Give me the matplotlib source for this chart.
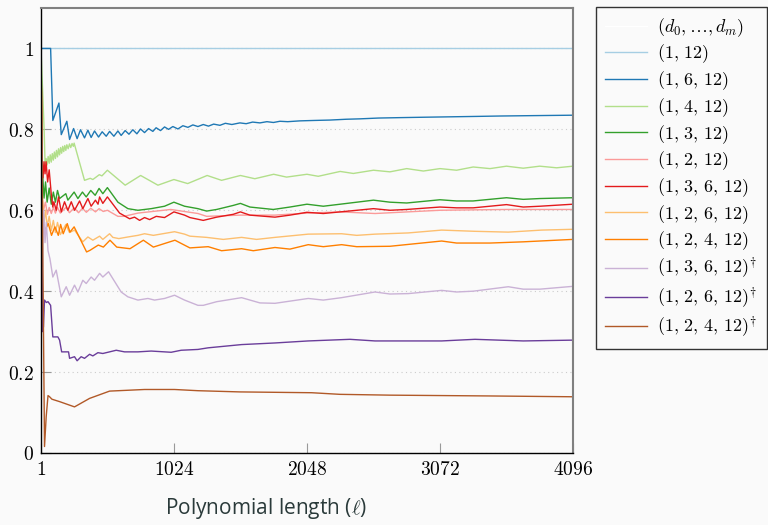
import matplotlib
matplotlib.use("Agg")
import matplotlib.pyplot as plt

plt.rcParams['mathtext.fontset'] = 'cm'
plt.rcParams['font.family'] = ['DejaVu Sans']

# (polynomial length, value)
s_1_12 = [(1, 1.0), (4096, 1.0)]
s_1_6_12 = [(1, 1.0), (75, 1.0), (92, 0.822), (139, 0.865), (157, 0.787), (200, 0.820), (221, 0.775),
            (252, 0.802), (279, 0.777), (305, 0.799), (336, 0.779), (362, 0.798), (387, 0.780),
            (413, 0.796), (444, 0.781), (472, 0.794), (503, 0.783), (529, 0.795), (562, 0.783),
            (593, 0.796), (618, 0.785), (649, 0.797), (678, 0.788), (708, 0.799), (739, 0.789),
            (767, 0.801), (798, 0.792), (829, 0.802), (862, 0.795), (887, 0.804), (921, 0.797),
            (952, 0.806), (983, 0.800), (1016, 0.807), (1055, 0.801), (1093, 0.809), (1132, 0.805),
            (1170, 0.811), (1209, 0.807), (1250, 0.812), (1290, 0.808), (1330, 0.813), (1378, 0.810),
            (1420, 0.815), (1470, 0.812), (1532, 0.816), (1580, 0.814), (1630, 0.818), (1686, 0.816),
            (1740, 0.819), (1790, 0.817), (1840, 0.820), (1900, 0.819), (1994, 0.821), (2100, 0.822),
            (2225, 0.823), (2350, 0.825), (2456, 0.826), (2600, 0.828), (2764, 0.829), (2950, 0.830),
            (3149, 0.831), (3350, 0.832), (3534, 0.833), (3800, 0.834), (4096, 0.835)]
s_1_4_12 = [(1, 1.0), (25, 0.80), (33, 0.707), (40, 0.728), (48, 0.712), (56, 0.733), (64, 0.716),
            (72, 0.737), (80, 0.719), (88, 0.740), (96, 0.724), (104, 0.744), (112, 0.728),
            (120, 0.748), (128, 0.732), (136, 0.752), (144, 0.737), (152, 0.755), (160, 0.741),
            (168, 0.758), (176, 0.745), (184, 0.760), (192, 0.748), (200, 0.762), (210, 0.752),
            (220, 0.764), (230, 0.755), (240, 0.765), (250, 0.758), (256, 0.766), (336, 0.674),
            (380, 0.679), (400, 0.676), (450, 0.688), (470, 0.685), (512, 0.699), (649, 0.662),
            (768, 0.686), (901, 0.662), (1024, 0.676), (1130, 0.666), (1280, 0.686), (1391, 0.674),
            (1536, 0.686), (1647, 0.678), (1792, 0.689), (1891, 0.682), (2048, 0.689), (2135, 0.684),
            (2304, 0.696), (2405, 0.691), (2560, 0.699), (2687, 0.695), (2816, 0.703), (2944, 0.697),
            (3072, 0.703), (3200, 0.699), (3328, 0.707), (3457, 0.703), (3584, 0.709), (3713, 0.704),
            (3840, 0.709), (3970, 0.705), (4096, 0.709)]
s_1_3_12 = [(1, 1.0), (12, 0.70), (24, 0.63), (36, 0.67), (48, 0.62), (64, 0.655), (80, 0.615),
            (96, 0.645), (112, 0.62), (128, 0.649), (144, 0.629), (192, 0.641), (208, 0.625),
            (256, 0.645), (285, 0.629), (320, 0.645), (349, 0.633), (384, 0.649), (418, 0.637),
            (448, 0.654), (477, 0.641), (512, 0.656), (593, 0.620), (670, 0.604), (747, 0.600),
            (849, 0.604), (952, 0.610), (1024, 0.620), (1106, 0.610), (1209, 0.604), (1276, 0.598),
            (1353, 0.602), (1481, 0.612), (1536, 0.617), (1609, 0.608), (1789, 0.602), (1917, 0.608),
            (2048, 0.615), (2174, 0.610), (2304, 0.615), (2560, 0.625), (2687, 0.620), (2816, 0.618),
            (3072, 0.626), (3200, 0.623), (3326, 0.623), (3584, 0.631), (3713, 0.627), (3841, 0.629),
            (4096, 0.631)]
s_1_2_12 = [(1, 1.0), (10, 0.64), (20, 0.60), (35, 0.62), (50, 0.59), (64, 0.607), (80, 0.592),
            (96, 0.607), (112, 0.593), (128, 0.607), (150, 0.593), (192, 0.607), (220, 0.594),
            (256, 0.606), (290, 0.594), (320, 0.605), (350, 0.595), (384, 0.605), (420, 0.596),
            (448, 0.604), (480, 0.597), (512, 0.600), (593, 0.585), (640, 0.585), (747, 0.593),
            (1000, 0.602), (1209, 0.592), (1276, 0.585), (1536, 0.588), (1800, 0.588), (2048, 0.593),
            (2304, 0.596), (2572, 0.592), (3072, 0.600), (3584, 0.602), (4096, 0.602)]
s_1_3_6_12 = [(1, 1.0), (8, 0.73), (16, 0.68), (24, 0.72), (32, 0.69), (40, 0.72), (52, 0.67),
              (64, 0.70), (80, 0.64), (92, 0.608), (100, 0.621), (118, 0.600), (136, 0.633),
              (157, 0.596), (182, 0.621), (208, 0.600), (234, 0.621), (259, 0.600), (298, 0.623),
              (323, 0.604), (362, 0.629), (387, 0.610), (420, 0.625), (440, 0.615), (452, 0.633),
              (477, 0.617), (512, 0.633), (606, 0.593), (683, 0.579), (721, 0.583), (760, 0.575),
              (798, 0.582), (837, 0.577), (888, 0.585), (952, 0.582), (1024, 0.596), (1106, 0.588),
              (1147, 0.582), (1250, 0.575), (1353, 0.583), (1481, 0.590), (1536, 0.596), (1609, 0.588),
              (1802, 0.583), (1917, 0.588), (2048, 0.595), (2174, 0.592), (2304, 0.596), (2560, 0.604),
              (2687, 0.600), (2816, 0.602), (3072, 0.608), (3200, 0.606), (3328, 0.606), (3584, 0.614),
              (3713, 0.608), (3841, 0.610), (4096, 0.615)]
s_1_2_6_12 = [(1, 1.0), (12, 0.63), (24, 0.57), (36, 0.60), (48, 0.56), (64, 0.585), (80, 0.55),
              (96, 0.575), (112, 0.545), (128, 0.57), (150, 0.54), (192, 0.565), (220, 0.545),
              (259, 0.551), (323, 0.522), (362, 0.534), (400, 0.526), (452, 0.536), (477, 0.528),
              (529, 0.542), (554, 0.533), (600, 0.530), (670, 0.534), (747, 0.538), (798, 0.542),
              (866, 0.538), (1029, 0.547), (1106, 0.541), (1147, 0.536), (1276, 0.533), (1404, 0.528),
              (1545, 0.533), (1660, 0.528), (1802, 0.533), (2058, 0.541), (2315, 0.542), (2431, 0.538),
              (2572, 0.541), (2828, 0.544), (3085, 0.551), (3341, 0.548), (3598, 0.546), (3854, 0.551),
              (4096, 0.553)]
s_1_2_4_12 = [(1, 1.0), (12, 0.60), (20, 0.56), (31, 0.551), (57, 0.567), (82, 0.538), (108, 0.559),
              (134, 0.538), (152, 0.565), (172, 0.542), (203, 0.567), (224, 0.546), (256, 0.559),
              (352, 0.497), (378, 0.501), (442, 0.514), (481, 0.509), (532, 0.526), (584, 0.509),
              (686, 0.505), (789, 0.526), (866, 0.509), (1032, 0.526), (1147, 0.507), (1288, 0.510),
              (1391, 0.500), (1545, 0.505), (1635, 0.500), (1802, 0.508), (1917, 0.504), (2058, 0.515),
              (2174, 0.510), (2315, 0.515), (2431, 0.510), (2687, 0.511), (3085, 0.524), (3200, 0.519),
              (3457, 0.519), (3713, 0.522), (4096, 0.528)]
s_1_3_6_12_d = [(1, 1.0), (12, 0.46), (22, 0.60), (32, 0.52), (42, 0.57), (55, 0.50), (70, 0.48),
                (92, 0.435), (118, 0.452), (157, 0.386), (195, 0.411), (221, 0.390), (259, 0.415),
                (285, 0.398), (323, 0.427), (349, 0.419), (387, 0.435), (413, 0.427), (452, 0.444),
                (477, 0.435), (521, 0.448), (618, 0.398), (670, 0.386), (747, 0.378), (824, 0.382),
                (875, 0.378), (952, 0.382), (1029, 0.390), (1106, 0.378), (1209, 0.365), (1250, 0.365),
                (1353, 0.374), (1545, 0.384), (1686, 0.371), (1802, 0.370), (2058, 0.382), (2174, 0.378),
                (2315, 0.384), (2572, 0.398), (2687, 0.393), (2828, 0.394), (3085, 0.402), (3200, 0.398),
                (3328, 0.400), (3598, 0.411), (3713, 0.405), (3841, 0.405), (4096, 0.412)]
s_1_2_6_12_d = [(1, 1.0), (12, 0.30), (20, 0.312), (28, 0.378), (42, 0.372), (55, 0.374), (75, 0.365),
                (92, 0.287), (131, 0.287), (144, 0.279), (160, 0.250), (213, 0.250), (221, 0.234),
                (259, 0.238), (279, 0.228), (310, 0.238), (336, 0.234), (375, 0.244), (400, 0.240),
                (439, 0.248), (477, 0.246), (529, 0.250), (580, 0.254), (644, 0.250), (747, 0.250),
                (849, 0.252), (1003, 0.249), (1080, 0.254), (1209, 0.256), (1288, 0.260), (1545, 0.268),
                (1802, 0.272), (2058, 0.277), (2379, 0.281), (2572, 0.277), (3085, 0.277), (3341, 0.281),
                (3713, 0.277), (4096, 0.279)]
s_1_2_4_12_d = [(1, 1.0), (28, 0.016), (41, 0.090), (55, 0.142), (67, 0.139), (85, 0.133), (144, 0.127),
                (259, 0.114), (375, 0.135), (529, 0.153), (798, 0.157), (1029, 0.157), (1209, 0.154),
                (1532, 0.151), (2084, 0.149), (2302, 0.145), (2687, 0.143), (3457, 0.141), (4096, 0.139)]

series = [s_1_12, s_1_6_12, s_1_4_12, s_1_3_12, s_1_2_12, s_1_3_6_12,
          s_1_2_6_12, s_1_2_4_12, s_1_3_6_12_d, s_1_2_6_12_d, s_1_2_4_12_d]
labels = [r'$(1,\,12)$', r'$(1,\,6,\,12)$', r'$(1,\,4,\,12)$', r'$(1,\,3,\,12)$', r'$(1,\,2,\,12)$',
          r'$(1,\,3,\,6,\,12)$', r'$(1,\,2,\,6,\,12)$', r'$(1,\,2,\,4,\,12)$',
          r'$(1,\,3,\,6,\,12)^{\!\dagger}$', r'$(1,\,2,\,6,\,12)^{\!\dagger}$',
          r'$(1,\,2,\,4,\,12)^{\!\dagger}$']
colors = ['#a6cee3', '#1f78b4', '#b2df8a', '#33a02c', '#fb9a99', '#e31a1c',
          '#fdbf6f', '#ff7f00', '#cab2d6', '#6a3d9a', '#b15928']

x_ticks = [1, 1024, 2048, 3072, 4096]
y_ticks = [0, 0.2, 0.4, 0.6, 0.8, 1]
y_ticklabels = ['0', '0.2', '0.4', '0.6', '0.8', '1']

bg = '#fafafa'
fig = plt.figure(figsize=(7.68, 5.25), dpi=100, facecolor=bg)
ax = fig.add_axes([41 / 768, 72 / 525, 532 / 768, 445 / 525], facecolor=bg)

# header entry of the legend, drawn invisible
ax.plot([], [], color='white', lw=1, label=r'$(d_0,\ldots,d_m)$')
for s, lab, c in zip(series, labels, colors):
    xs = [p[0] for p in s]
    ys = [p[1] for p in s]
    ax.plot(xs, ys, color=c, lw=1.0, label=lab)

ax.set_xlim(1, 4096)
ax.set_ylim(0, 1.1)
ax.set_xticks(x_ticks)
ax.set_xticklabels(['$%d$' % t for t in x_ticks])
ax.set_yticks(y_ticks)
ax.set_yticklabels(['$%s$' % t for t in y_ticklabels])
ax.tick_params(direction='in', length=7, color='#999999', labelsize=14, pad=5)
ax.yaxis.grid(True, linestyle=(0, (1, 3)), color='#cccccc', lw=0.8)

for side in ['left', 'bottom']:
    ax.spines[side].set_color('black')
    ax.spines[side].set_linewidth(1.0)
for side in ['top', 'right']:
    ax.spines[side].set_color('#808080')
    ax.spines[side].set_linewidth(1.5)

ax.set_xlabel(r'Polynomial length ($\ell$)', fontsize=15, color='#2a3a3a', family='Open Sans')
ax.xaxis.set_label_coords(0.423, -0.097)

leg = fig.legend(loc='upper left', bbox_to_anchor=(596 / 768, 1 - 7 / 525), fontsize=13,
                 frameon=True, fancybox=False, edgecolor='#333333', facecolor=bg,
                 framealpha=1, handlelength=2.3, handletextpad=0.6, labelspacing=0.22,
                 borderpad=0.5, borderaxespad=0)
leg.get_frame().set_linewidth(1.0)

fig.savefig('out.png', dpi=100, facecolor=bg)
